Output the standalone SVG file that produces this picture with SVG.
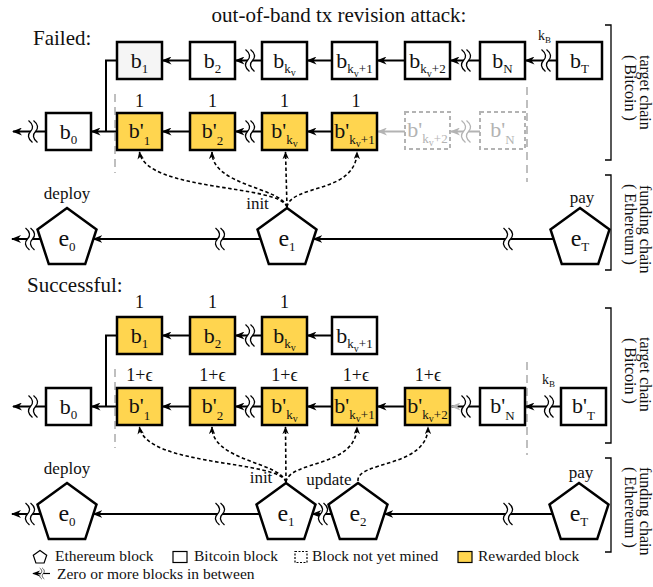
<svg xmlns="http://www.w3.org/2000/svg" xmlns:xlink="http://www.w3.org/1999/xlink" width="653" height="587" viewBox="0 0 653 587" font-family="'Liberation Serif', 'Times New Roman', Tinos, 'DejaVu Serif', serif">
<style>
.box{fill:#fff;stroke:#000;stroke-width:2.5}
.gold{fill:#FFD54F;stroke:#000;stroke-width:2.5}
.ghost{fill:#fff;stroke:#b3b3b3;stroke-width:2;stroke-dasharray:4 3}
.eth{fill:#fff;stroke:#000;stroke-width:2.5}
text{font-family:'Liberation Serif','Times New Roman',Tinos,'DejaVu Serif',serif;fill:#111}
.bl{font-size:22px;text-anchor:middle}
.gt{fill:#b3b3b3}
.sub{font-size:13px}
.sv{font-size:10px}
.lab{font-size:17px;text-anchor:middle}
.num{font-size:18px;text-anchor:middle}
.hd{font-size:21px}
.side{font-size:16px}
.leg{font-size:15.5px}
.ln{stroke:#000;stroke-width:2;fill:none}
.lg{stroke:#b3b3b3;stroke-width:2;fill:none}
.dl{stroke:#000;stroke-width:1.6;fill:none;stroke-dasharray:3.5 2.5}
.vd{stroke:#aaa;stroke-width:1.5;fill:none;stroke-dasharray:8 5}
.br{stroke:#000;stroke-width:1.3;fill:none}
</style>
<defs>
<marker id="ah" viewBox="0 0 10 8" refX="9" refY="4" markerWidth="10" markerHeight="8" markerUnits="userSpaceOnUse" orient="auto"><path d="M0,0 L10,4 L0,8 L3,4 z" fill="#000"/></marker>
<marker id="ahg" viewBox="0 0 10 8" refX="9" refY="4" markerWidth="10" markerHeight="8" markerUnits="userSpaceOnUse" orient="auto"><path d="M0,0 L10,4 L0,8 L3,4 z" fill="#b3b3b3"/></marker>
<marker id="ahd" viewBox="0 0 10 8" refX="9" refY="4" markerWidth="8" markerHeight="6.4" markerUnits="userSpaceOnUse" orient="auto"><path d="M0,0 L10,4 L0,8 L3,4 z" fill="#000"/></marker>
<g id="sq"><path d="M-4.5,-11 C0.5,-7 0.5,-3 -2.5,0 C-5.5,3 -5.5,7 -0.5,11 L4.5,11 C-0.5,7 -0.5,3 2.5,0 C5.5,-3 5.5,-7 0.5,-11 Z" fill="#fff"/><path d="M-4.5,-11 C0.5,-7 0.5,-3 -2.5,0 C-5.5,3 -5.5,7 -0.5,11 M0.5,-11 C5.5,-7 5.5,-3 2.5,0 C-0.5,3 -0.5,7 4.5,11" fill="none" stroke="#000" stroke-width="1.3"/></g>
<g id="sqg"><path d="M-4.5,-11 C0.5,-7 0.5,-3 -2.5,0 C-5.5,3 -5.5,7 -0.5,11 L4.5,11 C-0.5,7 -0.5,3 2.5,0 C5.5,-3 5.5,-7 0.5,-11 Z" fill="#fff"/><path d="M-4.5,-11 C0.5,-7 0.5,-3 -2.5,0 C-5.5,3 -5.5,7 -0.5,11 M0.5,-11 C5.5,-7 5.5,-3 2.5,0 C-0.5,3 -0.5,7 4.5,11" fill="none" stroke="#b3b3b3" stroke-width="1.3"/></g>
</defs>
<rect width="653" height="587" fill="#fff"/>

<!-- headings -->
<text class="hd" x="339" y="22" text-anchor="middle">out-of-band tx revision attack:</text>
<text class="hd" x="33" y="45">Failed:</text>
<text class="hd" x="27" y="292">Successful:</text>

<!-- side brackets and labels -->
<g id="brackets">
<path class="br" d="M605,25 H611 V160 H605"/>
<path class="br" d="M605,175 H611 V270 H605"/>
<path class="br" d="M605,308 H611 V443 H605"/>
<path class="br" d="M605,458 H611 V552 H605"/>
<text class="side" transform="translate(640,55) rotate(90)">target chain</text>
<text class="side" transform="translate(625,55) rotate(90)">( Bitcoin )</text>
<text class="side" transform="translate(640,185) rotate(90)">funding chain</text>
<text class="side" transform="translate(625,184) rotate(90)">( Ethereum )</text>
<text class="side" transform="translate(640,337) rotate(90)">target chain</text>
<text class="side" transform="translate(625,338) rotate(90)">( Bitcoin )</text>
<text class="side" transform="translate(640,467) rotate(90)">funding chain</text>
<text class="side" transform="translate(625,467) rotate(90)">( Ethereum )</text>
</g>

<!-- vertical dashed separators -->
<g id="separators">
<path class="vd" d="M115,94 V173"/>
<path class="vd" d="M527,87 V182"/>
<path class="vd" d="M115,369 V448"/>
<path class="vd" d="M527,362 V455"/>
</g>

<!-- connectors -->
<g id="connectors">
<path class="ln" d="M190,60.5 H162.5" marker-end="url(#ah)"/>
<path class="ln" d="M262,60.5 H235.5" marker-end="url(#ah)"/>
<path class="ln" d="M332,60.5 H307.5" marker-end="url(#ah)"/>
<path class="ln" d="M405,60.5 H377.5" marker-end="url(#ah)"/>
<path class="ln" d="M480,60.5 H450.5" marker-end="url(#ah)"/>
<path class="ln" d="M557,60.5 H525.5" marker-end="url(#ah)"/>
<path class="ln" d="M117,60.5 H106 V131.5"/>
<path class="ln" d="M117,131.5 H91.5" marker-end="url(#ah)"/>
<path class="ln" d="M46,131.5 H13" marker-end="url(#ah)"/>
<path class="ln" d="M190,131.5 H162.5" marker-end="url(#ah)"/>
<path class="ln" d="M262,131.5 H235.5" marker-end="url(#ah)"/>
<path class="ln" d="M332,131.5 H307.5" marker-end="url(#ah)"/>
<path class="lg" d="M405,131.5 H378" marker-end="url(#ahg)"/>
<path class="lg" d="M480,131.5 H451" marker-end="url(#ahg)"/>
<use href="#sq" xlink:href="#sq" x="250" y="60.5"/>
<use href="#sq" xlink:href="#sq" x="466" y="60.5"/>
<use href="#sq" xlink:href="#sq" x="546" y="60.5"/>
<use href="#sq" xlink:href="#sq" x="33" y="131.5"/>
<use href="#sq" xlink:href="#sq" x="250" y="131.5"/>
<use href="#sqg" xlink:href="#sqg" x="466" y="131.5"/>
<text x="538" y="40" style="font-size:14px">k<tspan style="font-size:9px" dy="3">B</tspan></text>
<path class="ln" d="M553.6,239 H313.4" marker-end="url(#ah)"/>
<path class="ln" d="M260.6,239 H93.4" marker-end="url(#ah)"/>
<path class="ln" d="M40.6,239 H12" marker-end="url(#ah)"/>
<use href="#sq" xlink:href="#sq" x="508" y="239"/>
<use href="#sq" xlink:href="#sq" x="220" y="239"/>
<use href="#sq" xlink:href="#sq" x="30" y="239"/>
<path class="dl" d="M287,207 C280,184 146,192 139.5,152" marker-end="url(#ahd)"/>
<path class="dl" d="M287,207 C281,187 212,186 212,152" marker-end="url(#ahd)"/>
<path class="dl" d="M287,207 L285.5,152" marker-end="url(#ahd)"/>
<path class="dl" d="M287,207 C291,184 356,194 357,152" marker-end="url(#ahd)"/>

<path class="ln" d="M190,335.5 H162.5" marker-end="url(#ah)"/>
<path class="ln" d="M262,335.5 H235.5" marker-end="url(#ah)"/>
<path class="ln" d="M332,335.5 H307.5" marker-end="url(#ah)"/>
<path class="ln" d="M117,335.5 H106 V406.5"/>
<use href="#sq" xlink:href="#sq" x="250" y="335.5"/>
<path class="ln" d="M117,406.5 H91.5" marker-end="url(#ah)"/>
<path class="ln" d="M46,406.5 H13" marker-end="url(#ah)"/>
<path class="ln" d="M190,406.5 H162.5" marker-end="url(#ah)"/>
<path class="ln" d="M262,406.5 H235.5" marker-end="url(#ah)"/>
<path class="ln" d="M332,406.5 H307.5" marker-end="url(#ah)"/>
<path class="ln" d="M405,406.5 H377.5" marker-end="url(#ah)"/>
<path class="ln" d="M480,406.5 H451.5" marker-end="url(#ahg)"/>
<path class="ln" d="M561,406.5 H525.5" marker-end="url(#ah)"/>
<use href="#sq" xlink:href="#sq" x="33" y="406.5"/>
<use href="#sq" xlink:href="#sq" x="250" y="406.5"/>
<use href="#sq" xlink:href="#sq" x="466" y="406.5"/>
<use href="#sq" xlink:href="#sq" x="549" y="406.5"/>
<text x="542" y="384" style="font-size:14px">k<tspan style="font-size:9px" dy="3">B</tspan></text>
<path class="ln" d="M552.6,514 H384.4" marker-end="url(#ah)"/>
<path class="ln" d="M331.6,514 H312.4" marker-end="url(#ah)"/>
<path class="ln" d="M259.6,514 H93.4" marker-end="url(#ah)"/>
<path class="ln" d="M40.6,514 H12" marker-end="url(#ah)"/>
<use href="#sq" xlink:href="#sq" x="508" y="514"/>
<use href="#sq" xlink:href="#sq" x="323" y="514"/>
<use href="#sq" xlink:href="#sq" x="220" y="514"/>
<use href="#sq" xlink:href="#sq" x="30" y="514"/>
<path class="dl" d="M286,482 C280,460 146,467 139.5,427" marker-end="url(#ahd)"/>
<path class="dl" d="M286,482 C280,462 212,461 212,427" marker-end="url(#ahd)"/>
<path class="dl" d="M286,482 L285.5,427" marker-end="url(#ahd)"/>
<path class="dl" d="M286,482 C290,460 356,468 357,427" marker-end="url(#ahd)"/>
<path class="dl" d="M358,481 C356,461 428,468 428,427" marker-end="url(#ahd)"/>
</g>

<!-- ===== FAILED nodes ===== -->
<g id="f_b1"><rect class="box" x="117" y="42" width="45" height="37" style="fill:#f5f5f5"/><text class="bl" x="139.5" y="67.5">b<tspan class="sub" dy="5">1</tspan></text></g>
<g id="f_b2"><rect class="box" x="190" y="42" width="45" height="37"/><text class="bl" x="212.5" y="67.5">b<tspan class="sub" dy="5">2</tspan></text></g>
<g id="f_bkv"><rect class="box" x="262" y="42" width="45" height="37"/><text class="bl" x="284.5" y="67.5">b<tspan class="sub" dy="5">k</tspan><tspan class="sv" dy="3">v</tspan></text></g>
<g id="f_bk1"><rect class="box" x="332" y="42" width="45" height="37"/><text class="bl" x="354.5" y="67.5">b<tspan class="sub" dy="5">k</tspan><tspan class="sv" dy="4">v</tspan><tspan class="sub" dy="-4">+1</tspan></text></g>
<g id="f_bk2"><rect class="box" x="405" y="42" width="45" height="37"/><text class="bl" x="427.5" y="67.5">b<tspan class="sub" dy="5">k</tspan><tspan class="sv" dy="4">v</tspan><tspan class="sub" dy="-4">+2</tspan></text></g>
<g id="f_bN"><rect class="box" x="480" y="42" width="45" height="37"/><text class="bl" x="502.5" y="67.5">b<tspan class="sub" dy="5">N</tspan></text></g>
<g id="f_bT"><rect class="box" x="557" y="42" width="45" height="37"/><text class="bl" x="579.5" y="67.5">b<tspan class="sub" dy="5">T</tspan></text></g>

<g id="f_b0"><rect class="box" x="46" y="113" width="45" height="37"/><text class="bl" x="68.5" y="138.5">b<tspan class="sub" dy="5">0</tspan></text></g>
<g id="f_bp1"><rect class="gold" x="117" y="113" width="45" height="37"/><text class="bl" x="139.5" y="137.5">b'<tspan class="sub" dy="7">1</tspan></text><text class="num" x="139.5" y="107">1</text></g>
<g id="f_bp2"><rect class="gold" x="190" y="113" width="45" height="37"/><text class="bl" x="212.5" y="137.5">b'<tspan class="sub" dy="7">2</tspan></text><text class="num" x="212.5" y="107">1</text></g>
<g id="f_bpkv"><rect class="gold" x="262" y="113" width="45" height="37"/><text class="bl" x="284.5" y="137.5">b'<tspan class="sub" dy="6">k</tspan><tspan class="sv" dy="3">v</tspan></text><text class="num" x="284.5" y="107">1</text></g>
<g id="f_bpk1"><rect class="gold" x="332" y="113" width="45" height="37"/><text class="bl" x="354.5" y="137.5">b'<tspan class="sub" dy="6">k</tspan><tspan class="sv" dy="3">v</tspan><tspan class="sub" dy="-3">+1</tspan></text><text class="num" x="356" y="107">1</text></g>
<g id="f_bpk2"><rect class="ghost" x="405" y="112" width="45" height="37"/><text class="bl gt" x="427.5" y="136.5">b'<tspan class="sub" dy="6">k</tspan><tspan class="sv" dy="3">v</tspan><tspan class="sub" dy="-3">+2</tspan></text></g>
<g id="f_bpN"><rect class="ghost" x="480" y="112" width="45" height="37"/><text class="bl gt" x="502.5" y="136.5">b'<tspan class="sub" dy="7">N</tspan></text></g>

<g id="f_e0"><polygon class="eth" points="67,208 96.5,229.4 85.2,264.1 48.8,264.1 37.5,229.4"/><text class="bl" x="67" y="246" style="font-size:24px">e<tspan class="sub" dy="5">0</tspan></text><text class="lab" x="67" y="199">deploy</text></g>
<g id="f_e1"><polygon class="eth" points="287,208 316.5,229.4 305.2,264.1 268.8,264.1 257.5,229.4"/><text class="bl" x="287" y="246" style="font-size:24px">e<tspan class="sub" dy="5">1</tspan></text><text class="lab" x="257.5" y="209">init</text></g>
<g id="f_eT"><polygon class="eth" points="580,208 609.5,229.4 598.2,264.1 561.8,264.1 550.5,229.4"/><text class="bl" x="580" y="246" style="font-size:24px">e<tspan class="sub" dy="5">T</tspan></text><text class="lab" x="582" y="203">pay</text></g>

<!-- ===== SUCCESSFUL nodes ===== -->
<g id="s_b1"><rect class="gold" x="117" y="317" width="45" height="37"/><text class="bl" x="139.5" y="342.5">b<tspan class="sub" dy="5">1</tspan></text><text class="num" x="139.5" y="308">1</text></g>
<g id="s_b2"><rect class="gold" x="190" y="317" width="45" height="37"/><text class="bl" x="212.5" y="342.5">b<tspan class="sub" dy="5">2</tspan></text><text class="num" x="212.5" y="308">1</text></g>
<g id="s_bkv"><rect class="gold" x="262" y="317" width="45" height="37"/><text class="bl" x="284.5" y="342.5">b<tspan class="sub" dy="5">k</tspan><tspan class="sv" dy="3">v</tspan></text><text class="num" x="284.5" y="308">1</text></g>
<g id="s_bk1"><rect class="box" x="332" y="317" width="45" height="37"/><text class="bl" x="354.5" y="342.5">b<tspan class="sub" dy="5">k</tspan><tspan class="sv" dy="4">v</tspan><tspan class="sub" dy="-4">+1</tspan></text></g>

<g id="s_b0"><rect class="box" x="46" y="388" width="45" height="37"/><text class="bl" x="68.5" y="413.5">b<tspan class="sub" dy="5">0</tspan></text></g>
<g id="s_bp1"><rect class="gold" x="117" y="388" width="45" height="37"/><text class="bl" x="139.5" y="412.5">b'<tspan class="sub" dy="7">1</tspan></text><text class="num" x="139.5" y="381">1+ϵ</text></g>
<g id="s_bp2"><rect class="gold" x="190" y="388" width="45" height="37"/><text class="bl" x="212.5" y="412.5">b'<tspan class="sub" dy="7">2</tspan></text><text class="num" x="212.5" y="381">1+ϵ</text></g>
<g id="s_bpkv"><rect class="gold" x="262" y="388" width="45" height="37"/><text class="bl" x="284.5" y="412.5">b'<tspan class="sub" dy="6">k</tspan><tspan class="sv" dy="3">v</tspan></text><text class="num" x="284.5" y="381">1+ϵ</text></g>
<g id="s_bpk1"><rect class="gold" x="332" y="388" width="45" height="37"/><text class="bl" x="354.5" y="412.5">b'<tspan class="sub" dy="6">k</tspan><tspan class="sv" dy="3">v</tspan><tspan class="sub" dy="-3">+1</tspan></text><text class="num" x="356" y="381">1+ϵ</text></g>
<g id="s_bpk2"><rect class="gold" x="405" y="388" width="45" height="37"/><text class="bl" x="427.5" y="412.5">b'<tspan class="sub" dy="6">k</tspan><tspan class="sv" dy="3">v</tspan><tspan class="sub" dy="-3">+2</tspan></text><text class="num" x="428" y="381">1+ϵ</text></g>
<g id="s_bpN"><rect class="box" x="480" y="388" width="45" height="37"/><text class="bl" x="502.5" y="412.5">b'<tspan class="sub" dy="7">N</tspan></text></g>
<g id="s_bpT"><rect class="box" x="561" y="388" width="45" height="37"/><text class="bl" x="583.5" y="412.5">b'<tspan class="sub" dy="7">T</tspan></text></g>

<g id="s_e0"><polygon class="eth" points="67,483 96.5,504.4 85.2,539.1 48.8,539.1 37.5,504.4"/><text class="bl" x="67" y="521" style="font-size:24px">e<tspan class="sub" dy="5">0</tspan></text><text class="lab" x="67" y="474">deploy</text></g>
<g id="s_e1"><polygon class="eth" points="286,483 315.5,504.4 304.2,539.1 267.8,539.1 256.5,504.4"/><text class="bl" x="286" y="521" style="font-size:24px">e<tspan class="sub" dy="5">1</tspan></text><text class="lab" x="261" y="483">init</text></g>
<g id="s_e2"><polygon class="eth" points="358,483 387.5,504.4 376.2,539.1 339.8,539.1 328.5,504.4"/><text class="bl" x="358" y="521" style="font-size:24px">e<tspan class="sub" dy="5">2</tspan></text><text class="lab" x="329" y="485">update</text></g>
<g id="s_eT"><polygon class="eth" points="579,483 608.5,504.4 597.2,539.1 560.8,539.1 549.5,504.4"/><text class="bl" x="579" y="521" style="font-size:24px">e<tspan class="sub" dy="5">T</tspan></text><text class="lab" x="581" y="478">pay</text></g>

<!-- legend -->
<g id="legend">
<polygon points="40,550.5 46.7,555.3 44.1,563 35.9,563 33.3,555.3" fill="#fff" stroke="#000" stroke-width="1.2"/>
<text class="leg" x="55" y="561">Ethereum block</text>
<rect x="173" y="551.5" width="14" height="11" fill="#fff" stroke="#000" stroke-width="1.2"/>
<text class="leg" x="194" y="561">Bitcoin block</text>
<rect x="295" y="551.5" width="12" height="11" fill="#fff" stroke="#000" stroke-width="1.2" stroke-dasharray="2 1.5"/>
<text class="leg" x="312" y="561">Block not yet mined</text>
<rect x="458" y="551.5" width="14" height="11" fill="#FFD54F" stroke="#000" stroke-width="1.2"/>
<text class="leg" x="478" y="561">Rewarded block</text>
<path d="M50,573.5 H33" stroke="#000" stroke-width="1.2" fill="none" marker-end="url(#ahd)"/>
<use href="#sq" xlink:href="#sq" transform="translate(42,573.5) scale(0.5)"/>
<text class="leg" x="57" y="579">Zero or more blocks in between</text>
</g>
</svg>
